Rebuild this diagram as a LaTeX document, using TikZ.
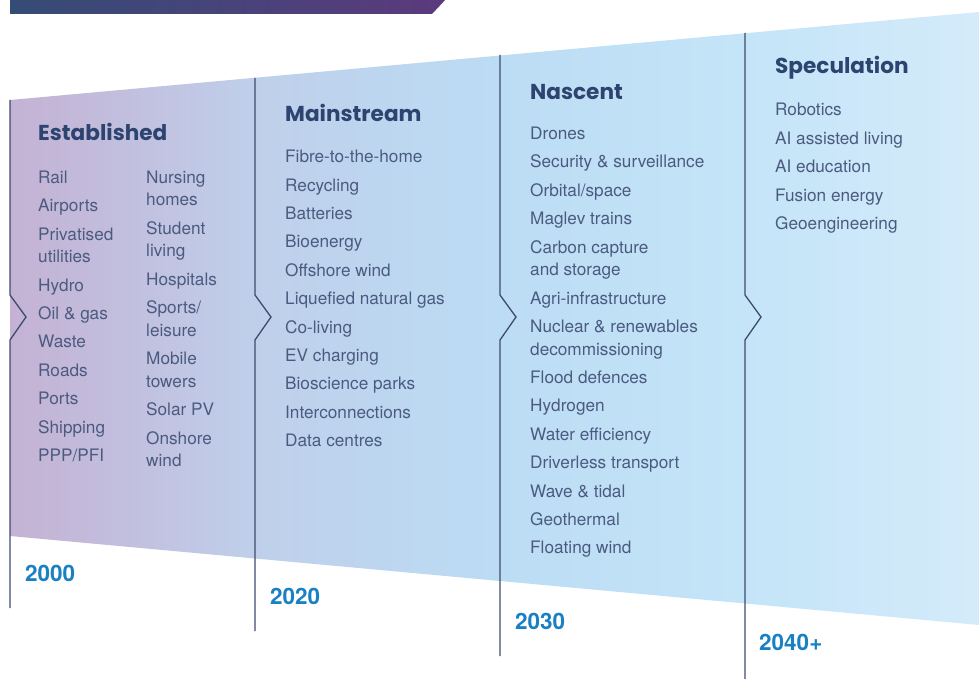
\documentclass[tikz,border=0pt]{standalone}
\usepackage{fontspec}
\setmainfont{TeX Gyre Heros}
\newfontfamily\headfont{Poppins}

\definecolor{navy}{HTML}{2E4470}
\definecolor{itemtext}{HTML}{4B5B80}
\definecolor{yearblue}{HTML}{1A80C4}
\definecolor{divline}{HTML}{3E4B6E}
\definecolor{barleft}{HTML}{354C76}
\definecolor{barright}{HTML}{5B3A7D}

% band colours, purple on the left fading to pale blue on the right
% (the path is fitted to the 25bp--75bp part of the shading)
\pgfdeclarehorizontalshading{bandshade}{100bp}{%
  color(0bp)=(rgb,255:red,196;green,178;blue,212);
  color(25bp)=(rgb,255:red,196;green,178;blue,212);
  color(31bp)=(rgb,255:red,194;green,191;blue,222);
  color(37.5bp)=(rgb,255:red,191;green,207;blue,234);
  color(50bp)=(rgb,255:red,188;green,220;blue,244);
  color(62.5bp)=(rgb,255:red,196;green,228;blue,248);
  color(75bp)=(rgb,255:red,212;green,235;blue,250);
  color(100bp)=(rgb,255:red,212;green,235;blue,250)}

\begin{document}
\begin{tikzpicture}[x=1pt, y=-1pt,
    divider/.style={draw=divline, line width=1.3pt, line join=miter},
    heading/.style={anchor=base west, inner sep=0pt, text=navy,
      font=\headfont\bfseries\fontsize{21.6}{25}\selectfont},
    % lists are placed by the baseline of their last line
    items/.style={anchor=base west, inner sep=0pt, align=left, text=itemtext,
      font=\fontsize{17.2}{22.6}\selectfont},
    year/.style={anchor=base west, inner sep=0pt, text=yearblue,
      font=\bfseries\fontsize{22.5}{26}\selectfont}]

  \useasboundingbox (0,0) rectangle (979,679);

  % Title bar
  \shade[left color=barleft, right color=barright]
    (10,-2) -- (447,-2) -- (432,14) -- (10,14) -- cycle;

  % Band
  \shade[shading=bandshade] (10,100) -- (979,12) -- (979,625) -- (10,536) -- cycle;

  % Dividers
  \draw[divider] (10,100)  -- (10,295)  -- (26,317)  -- (10,340)  -- (10,608);
  \draw[divider] (255,78)  -- (255,295) -- (271,317) -- (255,340) -- (255,631);
  \draw[divider] (500,55)  -- (500,295) -- (516,317) -- (500,340) -- (500,656);
  \draw[divider] (745,33)  -- (745,295) -- (761,317) -- (745,340) -- (745,679);

  % Column: Established
  \node[heading] (established) at (38,140.5) {Established};
  \node[items] (estleft) at (38,461.5) {Rail\\[5.8pt]Airports\\[5.8pt]Privatised\\utilities\\[5.8pt]%
    Hydro\\[5.8pt]Oil \& gas\\[5.8pt]Waste\\[5.8pt]Roads\\[5.8pt]Ports\\[5.8pt]Shipping\\[5.8pt]PPP/PFI};
  \node[items] (estright) at (146,466.7) {Nursing\\homes\\[5.8pt]Student\\living\\[5.8pt]Hospitals\\[5.8pt]%
    Sports/\\leisure\\[5.8pt]Mobile\\towers\\[5.8pt]Solar PV\\[5.8pt]Onshore\\wind};

  % Column: Mainstream
  \node[heading] (mainstream) at (285,121.7) {Mainstream};
  \node[items] (mainlist) at (285,446.7) {Fibre-to-the-home\\[5.8pt]Recycling\\[5.8pt]Batteries\\[5.8pt]%
    Bioenergy\\[5.8pt]Offshore wind\\[5.8pt]Liquefied natural gas\\[5.8pt]Co-living\\[5.8pt]%
    EV charging\\[5.8pt]Bioscience parks\\[5.8pt]Interconnections\\[5.8pt]Data centres};

  % Column: Nascent
  \node[heading] (nascent) at (530,99.5) {Nascent};
  \node[items] (nascentlist) at (530,553.9) {Drones\\[5.8pt]Security \& surveillance\\[5.8pt]%
    Orbital/space\\[5.8pt]Maglev trains\\[5.8pt]Carbon capture\\and storage\\[5.8pt]%
    Agri-infrastructure\\[5.8pt]Nuclear \& renewables\\decommissioning\\[5.8pt]%
    Flood defences\\[5.8pt]Hydrogen\\[5.8pt]Water efficiency\\[5.8pt]Driverless transport\\[5.8pt]%
    Wave \& tidal\\[5.8pt]Geothermal\\[5.8pt]Floating wind};

  % Column: Speculation
  \node[heading] (speculation) at (775,73.5) {Speculation};
  \node[items] (speclist) at (775,229.4) {Robotics\\[5.8pt]AI assisted living\\[5.8pt]%
    AI education\\[5.8pt]Fusion energy\\[5.8pt]Geoengineering};

  % Years
  \node[year] (y2000) at (25,581.7) {2000};
  \node[year] (y2020) at (270,604.5) {2020};
  \node[year] (y2030) at (515,629.5) {2030};
  \node[year] (y2040) at (759,650.7) {2040+};
\end{tikzpicture}
\end{document}
